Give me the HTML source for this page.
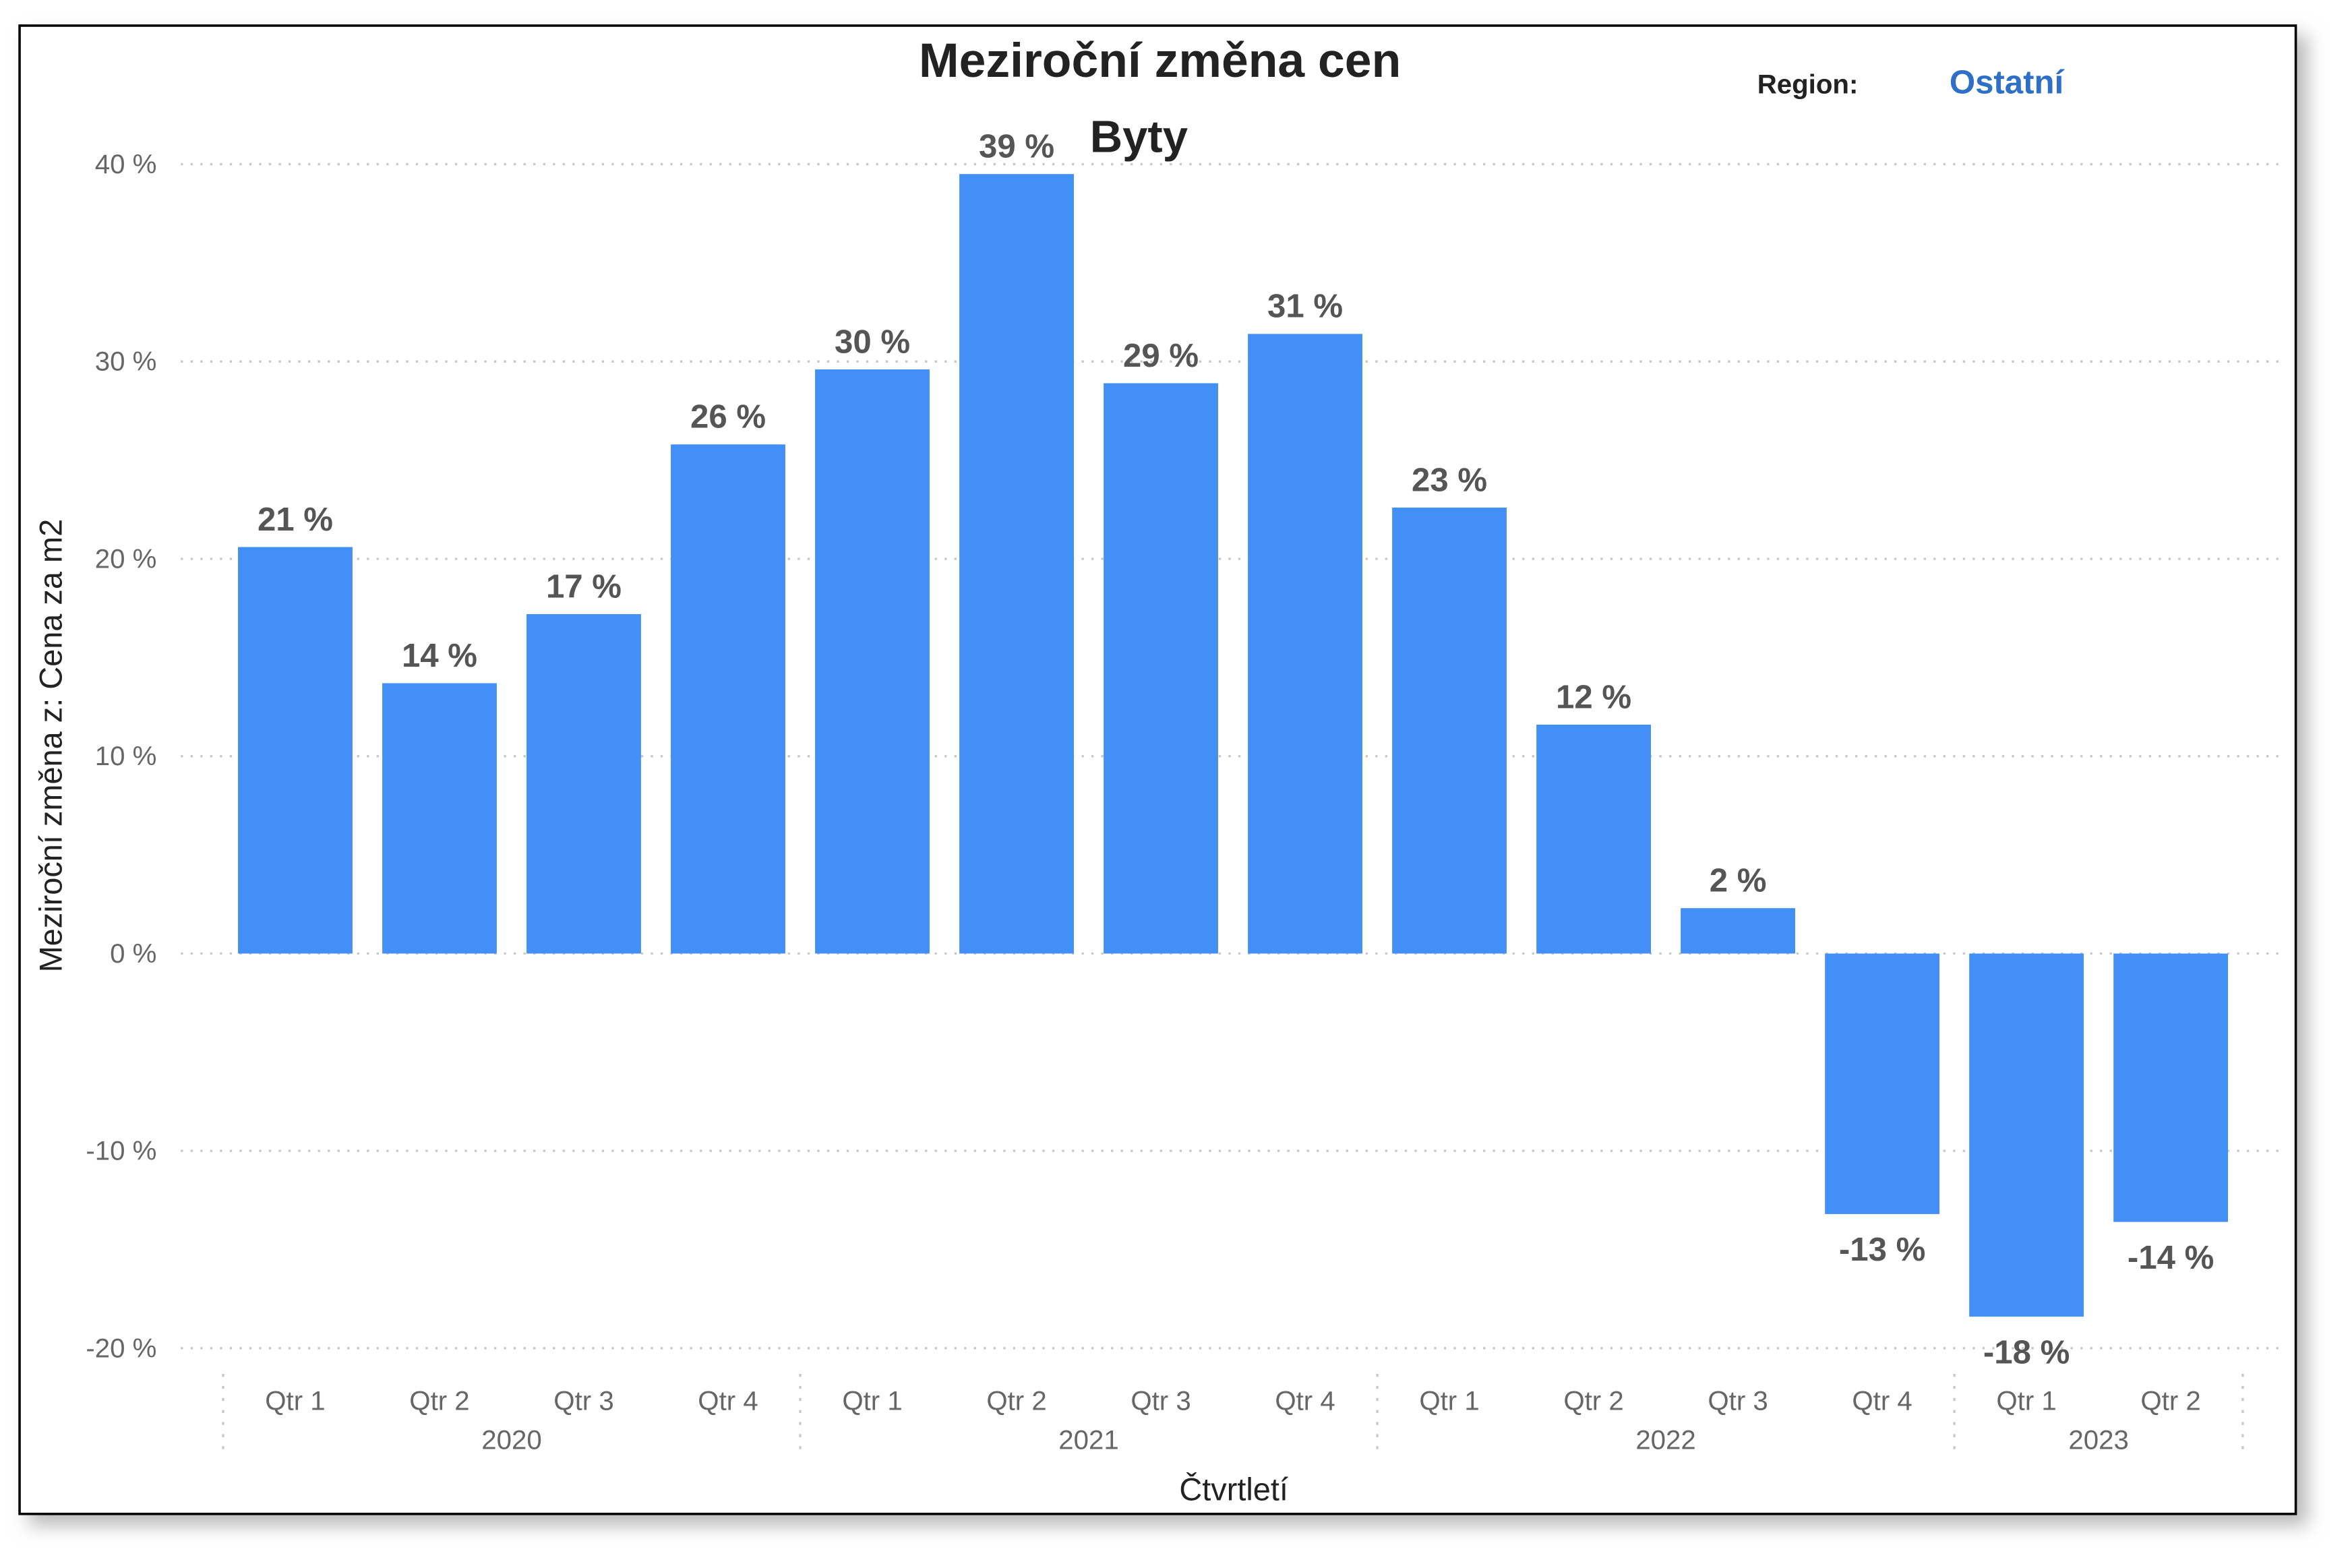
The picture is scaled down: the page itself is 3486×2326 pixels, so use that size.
<!DOCTYPE html>
<html><head><meta charset="utf-8"><style>
html,body{margin:0;padding:0;background:#fff;}
svg{display:block;font-family:"Liberation Sans",Arial,sans-serif;}
</style></head><body>
<svg id="chart" width="3486" height="2326" viewBox="0 0 1560 1040.9" preserveAspectRatio="none" xmlns="http://www.w3.org/2000/svg">
<defs><filter id="sh" x="-5%" y="-5%" width="110%" height="110%"><feGaussianBlur stdDeviation="6"/></filter></defs>
<rect x="19" y="23" width="1513" height="990" fill="#bbb" filter="url(#sh)"/>
<rect x="13" y="17" width="1511" height="988" fill="#fff" stroke="#000" stroke-width="1.6"/>
<text x="770" y="51" text-anchor="middle" font-size="32" font-weight="bold" fill="#222">Meziroční změna cen</text>
<text x="756" y="101" text-anchor="middle" font-size="30" font-weight="bold" fill="#222">Byty</text>
<text x="1200" y="62" text-anchor="middle" font-size="18" font-weight="bold" fill="#222">Region:</text>
<text x="1332" y="62" text-anchor="middle" font-size="22" font-weight="bold" fill="#2e6fc7">Ostatní</text>
<text transform="translate(41,495) rotate(-90)" text-anchor="middle" font-size="21" fill="#222">Meziroční změna z: Cena za m2</text>
<text x="819" y="996" text-anchor="middle" font-size="21" fill="#222">Čtvrtletí</text>
<g id="grid"></g><g id="bars"></g><g id="xaxis"></g>
</svg>
<script>
const categories=["Qtr 1","Qtr 2","Qtr 3","Qtr 4","Qtr 1","Qtr 2","Qtr 3","Qtr 4","Qtr 1","Qtr 2","Qtr 3","Qtr 4","Qtr 1","Qtr 2"];
const years=["2020","2021","2022","2023"];
const yearCounts=[4,4,4,2];
const values=[20.6,13.7,17.2,25.8,29.6,39.5,28.9,31.4,22.6,11.6,2.3,-13.2,-18.4,-13.6];
const valueLabels=["21 %","14 %","17 %","26 %","30 %","39 %","29 %","31 %","23 %","12 %","2 %","-13 %","-18 %","-14 %"];
const yTicks=[40,30,20,10,0,-10,-20];
const NS="http://www.w3.org/2000/svg";
const y0=633, pxPer=13.1;
function y(v){return y0-v*pxPer;}
const x0=196, step=95.77, bw=76;
function x(i){return x0+i*step;}
function mk(t,a,p){const e=document.createElementNS(NS,t);for(const k in a)e.setAttribute(k,a[k]);p.appendChild(e);return e;}
const grid=document.getElementById('grid'),bars=document.getElementById('bars'),xa=document.getElementById('xaxis');
yTicks.forEach(t=>{
  const l=mk('line',{x1:120,x2:1516,y1:y(t),y2:y(t),stroke:'#c8c8c8','stroke-width':1.5,'stroke-dasharray':'1.5 5'},grid);
  
  
  const tx=mk('text',{x:104,y:y(t)+6,'text-anchor':'end','font-size':18,fill:'#666'},grid);
  tx.textContent=t+' %';
  
  
});
values.forEach((v,i)=>{
  const top=Math.min(y(v),y0),h=Math.abs(y(v)-y0);
  const r=mk('rect',{x:x(i)-bw/2,y:top,width:bw,height:h,fill:'#418ff7'},bars);
  
  
  const ly=v>=0?y(v)-11:y(v)+31;
  const t=mk('text',{x:x(i),y:ly,'text-anchor':'middle','font-size':22,'font-weight':'bold',fill:'#555'},bars);
  t.textContent=valueLabels[i];
  
  
  const q=mk('text',{x:x(i),y:936,'text-anchor':'middle','font-size':18,fill:'#666'},xa);
  q.textContent=categories[i];
  
  
});
let idx=0;
function sep(i){const sx=x(i)-step/2-(i===values.length?-step/2+bw/2+10:0);
  const s=mk('line',{x1:sx,x2:sx,y1:912,y2:968,stroke:'#c8c8c8','stroke-width':1.5,'stroke-dasharray':'2 6'},xa);
  
  }
years.forEach((yr,k)=>{
  sep(idx);
  const c=(x(idx)+x(idx+yearCounts[k]-1))/2;
  const t=mk('text',{x:c,y:962,'text-anchor':'middle','font-size':18,fill:'#666'},xa);
  t.textContent=yr;
  
  
  idx+=yearCounts[k];
});
sep(idx);
</script>
</body></html>
